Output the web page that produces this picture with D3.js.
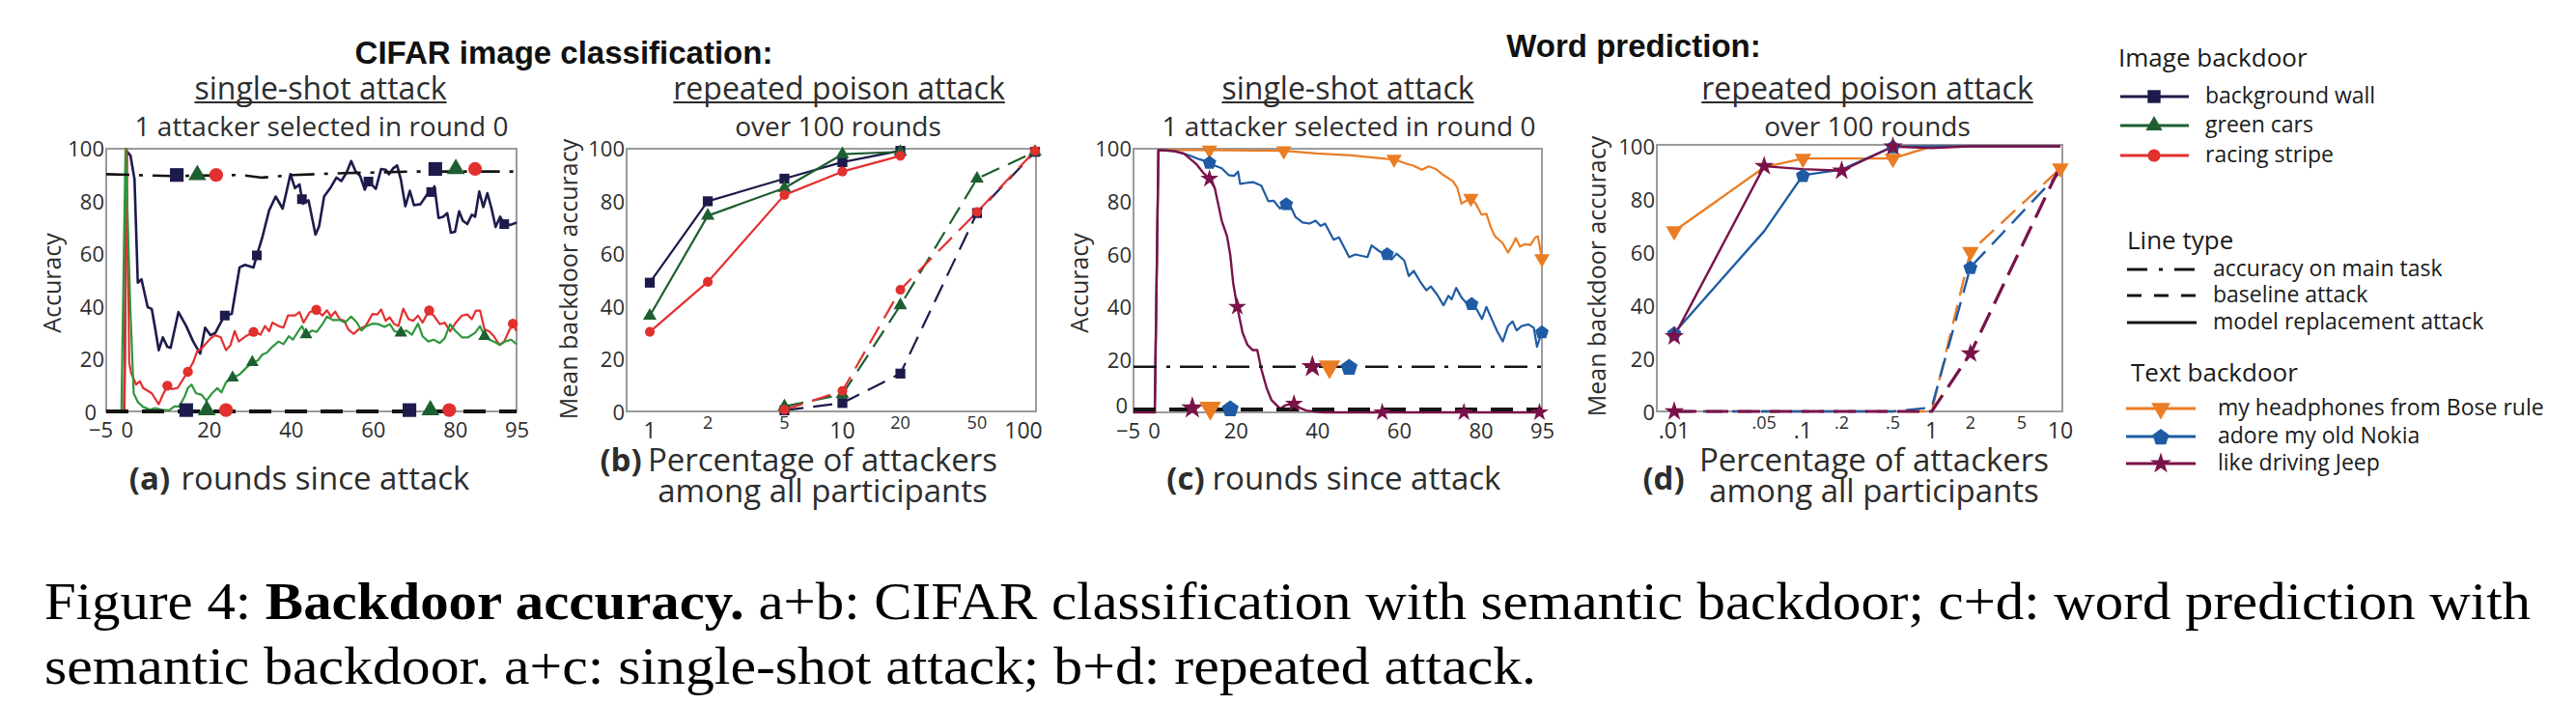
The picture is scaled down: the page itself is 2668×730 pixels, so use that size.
<!DOCTYPE html>
<html><head><meta charset="utf-8">
<script src="https://cdn.jsdelivr.net/npm/d3@7"></script>
<style>body{margin:0;background:#fff}svg{display:block}</style>
</head><body>
<svg id="c" width="2668" height="730"></svg>
<script>
// ===================== DATA =====================
// Panel (a): CIFAR single-shot, [round, accuracy]
const aNavy = [[-0.6,0],[0,99],[0.9,97.5],[1.9,88.3],[2.7,49],[3.6,50.3],[5.1,39.7],[6.1,39],[6.9,31.9],[7.8,23.3],[8.8,28.2],[9.9,24.6],[10.7,24.2],[12.6,37.8],[14.5,32.5],[16.2,26.6],[17.9,22],[19.1,31.9],[20.4,29],[21.6,29.9],[22.9,33.8],[23.9,36.5],[25.6,37.1],[27.5,54.8],[28.8,55.8],[30.9,54.8],[31.7,59.4],[33,66],[34.7,76.5],[36.3,81.8],[38,77.2],[39.9,90.3],[41,85],[42.1,86.4],[42.9,79.1],[44.3,80.4],[46,67.3],[46.9,70.6],[48.1,81.8],[49.6,85],[51.1,89],[52.3,87.7],[53.6,91],[54.7,95.3],[55.7,91.6],[56.9,89.6],[58,84.4],[58.9,87.7],[60.7,84.7],[62,92.3],[63.1,92],[63.9,90.3],[64.9,92.5],[65.9,93.6],[66.8,88.3],[67.9,78.1],[69,84],[70,78.5],[71.6,78.9],[73.3,82.8],[74.2,83.1],[75,85.7],[76,73.6],[77.1,74.1],[78.1,75.5],[79,68],[80,68.4],[81,76.2],[81.9,72.6],[83,71.3],[84.1,74.9],[84.9,74.1],[85.9,83.7],[86.9,77.8],[87.9,83.1],[88.9,77.2],[89.9,70.2],[91,74.1],[92,71.3],[93.5,71],[95,71.9]];
const aGreen = [[-1.3,0],[-0.3,100],[0.9,38.4],[1.7,6.9],[2.7,3.6],[4,1.7],[5.7,0.6],[6.9,1.3],[8.6,0.6],[10.3,0.4],[11.6,1.9],[12.8,1.9],[14.1,5.6],[14.9,8.9],[15.8,10.2],[16.9,6.9],[18.3,6.3],[19.4,4],[20.8,6.9],[22.1,8.9],[23.1,7.2],[24.2,11.1],[25.8,12.8],[27.5,14.1],[29,16.4],[30.6,18.7],[32,19.4],[33,21.6],[34.2,22.4],[35.5,24.6],[37,26.6],[38.2,25.6],[39.5,28.6],[40.5,27.3],[41.6,30],[42.7,32.5],[43.7,29.2],[45.2,30.8],[46.3,30.3],[47.7,33.2],[48.8,36.1],[50.2,34.8],[51.9,34.8],[53.2,33.8],[54.7,36.1],[56.1,33.8],[57.2,30.8],[58.4,32.5],[59.9,33.4],[61.4,33.2],[62.8,32.2],[64.1,33.2],[65.3,30.5],[66.8,29.9],[68.1,30.8],[69.5,29.2],[71,33.4],[72.1,28.6],[73.5,26.6],[74.8,27.3],[76.3,26],[77.5,27.9],[78.8,33.2],[80,30.8],[81.7,28.2],[83.2,28.2],[84.9,29.9],[86.1,32.5],[87.2,28.6],[88.4,27.3],[89.7,26.4],[91,25.3],[92.2,26.6],[93.7,27.3],[95,25.6]];
const aRed = [[-0.6,0],[0,100],[0.6,18.7],[1.05,14.8],[2.3,10.2],[3.2,11.5],[4,8.9],[6.1,6.9],[7.8,2.7],[8.6,5.6],[9.9,9.8],[11,8.5],[12.4,8.9],[13.7,12.2],[14.9,15.1],[16.2,18.7],[17.2,23],[18.3,24],[19.4,26],[20.6,28],[21.6,29],[22.9,28.2],[24.2,23.3],[25.3,25.3],[26.3,30.6],[27.3,26.6],[29,28.6],[30.9,30.3],[32.6,29.2],[33.7,32.5],[34.7,30.5],[35.5,33.8],[37,32.5],[38.2,31.9],[39.3,36.5],[41,36.5],[42.1,37.8],[43.1,33.8],[44.6,37.8],[46.2,38.7],[47.7,36.5],[48.8,38.5],[49.8,36.1],[50.8,38],[51.9,35.1],[53,34.5],[54,31.2],[55.3,29.5],[56.5,31.2],[58.2,32.5],[59.9,37.1],[61.1,36.9],[62,38.8],[63.1,34.5],[64.1,35.8],[65.1,33.4],[66.2,32.5],[67.4,39.1],[68.7,35.1],[69.8,34.5],[71,36.5],[72.1,33.8],[73.7,38.4],[75,36.1],[76.3,33.2],[77.5,33.8],[78.8,30.5],[80.2,33.8],[81.7,36.5],[83,36.9],[84.1,35.1],[85.1,38.4],[86.1,38.4],[87.2,31.2],[88.3,30.5],[89.5,28.6],[90.8,25.3],[92,26.6],[93.1,30.5],[94.1,33.4],[95,30.5]];
const aMainTask = [[-5,90.3],[11,89.6],[28,90],[33,89],[40.5,90],[53,90.7],[70,91.3],[95,91.3]];
const aBaseline = [[-5,0],[95,0]];
const aNavyMarks = [[23.9,36.5],[31.7,59.4],[42.7,80.8],[58.9,87.5],[74.2,83.5],[92,71.3]];
const aGreenMarks = [[25.8,12.8],[30.6,18.7],[43.7,29.2],[66.8,29.9],[87.2,28.6]];
const aRedMarks = [[9.9,9.8],[14.9,15.1],[30.9,30.3],[46.2,38.7],[73.7,38.4],[94.1,33.4]];
const aMainMarks = [["square",12.2,90],["triangle",17.2,90],["circle",21.8,90],["square",75.2,92.3],["triangle",80.2,92.3],["circle",84.9,92.3]];
const aBaseMarks = [["square",14.5,0.5],["triangle",19.5,0.5],["circle",24.2,0.5],["square",68.9,0.5],["triangle",74,0.5],["circle",78.6,0.5]];

// Panel (b): CIFAR repeated poison, % attackers
const bPctModel = [1,2,5,10,20];
const bNavyModel = [49,80,88.6,94.9,99.2];
const bGreenModel = [36.4,74.5,85,97.9,98.8];
const bRedModel = [30.3,49.3,82.4,91.3,97.3];
const bPctBase = [5,10,20,50,100];
const bNavyBase = [0.4,3.2,14.4,75.5,98.8];
const bGreenBase = [1.9,6.5,40.4,88.6,98.8];
const bRedBase = [0.6,7.8,46.3,75.9,99.2];
const bTicksMajor = [1,10,100];
const bTicksMinor = [2,5,20,50];

// Panel (c): word prediction single-shot
const cOrange = [[-5,0],[0.2,0],[1.1,99.5],[13.6,99.5],[31.8,99.2],[39.8,98.2],[48.3,97.5],[56.7,96.2],[58.8,96],[61.8,94.3],[63.5,93.6],[65.6,92],[67.3,93.3],[69,92.3],[70.6,90.3],[73.2,87.7],[74.3,85.1],[75.3,79.2],[76.5,80.3],[77.6,81.2],[78.8,79.2],[80.2,75],[81.4,75.3],[82.5,70.1],[83.5,66.8],[85.4,64.2],[86.7,60.6],[87.8,63.5],[88.6,66.1],[89.6,62.9],[90.9,63.8],[92.2,63.5],[93.4,66.4],[94,66.8],[95,58.5]];
const cBlue = [[-5,0],[0.2,0],[1.1,99.5],[5.2,99.1],[8.6,97.5],[11.1,96],[13.6,94.9],[14.9,93.6],[16.6,92.6],[18.3,90],[19.6,89.7],[20.6,91.3],[21.1,86.7],[22.9,87.1],[24.4,87.3],[26.3,86],[28,80.1],[29.3,80.3],[30.9,77.3],[32.4,79.2],[33.5,77.9],[34.7,74],[36.4,72],[38.1,71.6],[39.6,72.7],[40.8,70.7],[41.9,71.6],[44,65.5],[45.3,66.4],[47.8,58.9],[49.3,59.9],[52.3,58.9],[53.3,63.3],[55.4,60.9],[57.1,60.2],[58.2,58],[59.4,60.2],[61.3,57.6],[62.4,51.7],[63.6,53.7],[65.1,49.8],[66.7,46.3],[67.8,47.8],[69.4,44.5],[70.9,40.6],[72.1,44.2],[72.9,42.9],[74,47.2],[75.3,43.6],[76.5,41.5],[77.8,41.3],[79.1,38.9],[80.3,35.4],[81.4,40],[82.7,35.4],[84.1,30.6],[85.4,26.9],[86.7,32.8],[87.8,34.5],[88.8,31.1],[90.1,32.8],[91.7,33.4],[93,32.1],[93.8,24.9],[95,30.6]];
const cPurple = [[-5,0],[0.2,0],[1.1,99.5],[4.4,99.2],[7.3,98.2],[10.3,94.3],[12,91],[13.6,88.6],[14.9,85.1],[16.6,72.7],[17.9,66.8],[18.7,59.6],[19.4,49.1],[20.4,40],[21.7,30.2],[22.9,25.6],[24.2,23.6],[25.3,23.6],[26.3,16.4],[27.6,9.2],[28.8,4.6],[30.9,1.4],[32.2,2.7],[34.3,3.3],[35.6,1.8],[37.3,0.7],[41.5,0],[95,0]];
const cMainTask = [[-5,17.3],[95,17.3]];
const cBaseline = [[-5,1.1],[95,1.1]];
const cOrangeMarks = [[13.6,99.5],[31.8,99.2],[58.8,96],[77.6,81.2],[95,58.3]];
const cBlueMarks = [[13.6,94.9],[32.4,79.2],[57.1,60.2],[77.8,41.3],[95,30.6]];
const cPurpleMarks = [[13.6,88.6],[20.4,40],[34.3,3.3],[55.9,0],[75.9,0],[94.4,0]];
const cMainMarks = [["star",38.8,17.3],["tridown",43,17.3],["pentagon",47.8,17.3]];
const cBaseMarks = [["star",9.4,1.6],["tridown",13.8,1.6],["pentagon",18.7,1.6]];

// Panel (d): word prediction repeated poison
const dPct = [0.01,0.05,0.1,0.2,0.5,1,2,10];
const dOrangeModel = [68,92.1,95.4,95.4,95.4,100,100,100];
const dBlueModel = [29.6,68,89.1,91.2,99.9,100,100,100];
const dPurpleModel = [28.3,92.5,91.4,90.8,99.9,99.3,100,100];
const dOrangeBase = [0,0,0,0,0,0,60.2,91.7];
const dBlueBase = [0,0,0,0,0,1.5,54.4,90.4];
const dPurpleBase = [0,0,0,0,0,0,21.8,92.7];
const dOrangeModelMarks = [0.01,0.1,0.5];
const dBlueModelMarks = [0.01,0.1,0.5];
const dPurpleModelMarks = [0.01,0.05,0.2,0.5];
const dOrangeBaseMarks = [2,10];
const dBlueBaseMarks = [2];
const dPurpleBaseMarks = [0.01,2];
const dTicksMajor = [0.01,0.1,1,10];
const dTicksMinor = [0.05,0.2,0.5,2,5];
const dTickLabels = {0.01:".01",0.05:".05",0.1:".1",0.2:".2",0.5:".5",1:"1",2:"2",5:"5",10:"10"};

const yTicks = [0,20,40,60,80,100];
const roundTicks = [-5,0,20,40,60,80,95];

const imageLegend = [["background wall","navy","square"],["green cars","green","triangle"],["racing stripe","red","circle"]];
const lineLegend = [["accuracy on main task","dashdot"],["baseline attack","dashed"],["model replacement attack","solid"]];
const textLegend = [["my headphones from Bose rule","orange","tridown"],["adore my old Nokia","blue","pentagon"],["like driving Jeep","purple","star"]];

// ===================== STYLE =====================
const C = {navy:"#1c1b4b", green:"#2f963d", greenDark:"#1d5f30", red:"#e2302f",
           orange:"#ea7d24", blue:"#1f5ba4", purple:"#7a1249", black:"#141414",
           box:"#9b9b9b", text:"#2d2d2d"};
const FONT = "'Open Sans', 'Noto Sans', sans-serif";
const svg = d3.select("#c");
svg.append("rect").attr("width",2668).attr("height",730).attr("fill","#fff");

function symPath(shape,size){
  if(shape==="pentagon"){
    const r=Math.sqrt(size/2.378); let p="";
    for(let i=0;i<5;i++){const a=-Math.PI/2+i*2*Math.PI/5;p+=(i?"L":"M")+(r*Math.cos(a)).toFixed(2)+","+(r*Math.sin(a)+r*0.1).toFixed(2);}
    return p+"Z";
  }
  const t={square:d3.symbolSquare,triangle:d3.symbolTriangle,tridown:d3.symbolTriangle,circle:d3.symbolCircle,star:d3.symbolStar}[shape];
  return d3.symbol(t,size)();
}
function marker(g,shape,x,y,size,color){
  g.append("path").attr("d",symPath(shape,size))
   .attr("transform",`translate(${x},${y})`+(shape==="tridown"?" rotate(180)":""))
   .attr("fill",color);
}
const DASHDOT="24,10,4,10";

function drawLine(g,data,x,y,color,width,dash){
  g.append("path").datum(data)
   .attr("d",d3.line().x(d=>x(d[0])).y(d=>y(d[1])))
   .attr("fill","none").attr("stroke",color).attr("stroke-width",width)
   .attr("stroke-linejoin","round")
   .attr("stroke-dasharray",dash||null);
}
function box(x0,x1,y0,y1){
  svg.append("rect").attr("x",x0).attr("y",y0).attr("width",x1-x0).attr("height",y1-y0)
    .attr("fill","none").attr("stroke",C.box).attr("stroke-width",2);
}
function text(str,x,y,size,opts={}){
  const t=svg.append("text").attr("x",x).attr("y",y).attr("font-family",opts.family||FONT)
    .attr("font-size",size).attr("fill",opts.fill||C.text).attr("text-anchor",opts.anchor||"middle")
    .attr("font-weight",opts.weight||null).text(str);
  if(opts.rotate) t.attr("transform",`rotate(-90,${x},${y})`);
  return t;
}
function twoLine(l1,l2,cx,y,size){
  const t=svg.append("text").attr("font-family",FONT).attr("font-size",size).attr("fill",C.text).attr("text-anchor","middle");
  t.append("tspan").attr("x",cx).attr("y",y).text(l1);
  t.append("tspan").attr("x",cx).attr("y",y+32).text(l2);
}
function underlinedTitle(str,cx,y){
  const t=text(str,cx,y,32);
  const w=t.node().getComputedTextLength();
  svg.append("line").attr("x1",cx-w/2).attr("x2",cx+w/2).attr("y1",y+3).attr("y2",y+3)
    .attr("stroke",C.text).attr("stroke-width",1.8);
}
function yAxis(y,xLeft,zeroDx,zeroDy){
  const g=svg.append("g").attr("transform",`translate(${xLeft},0)`)
    .call(d3.axisLeft(y).tickValues(yTicks).tickSize(0).tickPadding(2));
  g.select(".domain").remove();
  g.selectAll("text").attr("font-family",FONT).attr("font-size",22).attr("fill",C.text)
    .attr("dy","0.36em");
  g.selectAll("text").filter(d=>d===0).attr("dx",zeroDx||0).attr("dy",(zeroDy||0)+8);
}
function roundAxis(x,yBottom){
  const g=svg.append("g").attr("transform",`translate(0,${yBottom})`)
    .call(d3.axisBottom(x).tickValues(roundTicks).tickSize(0).tickFormat(d3.format("d")));
  g.select(".domain").remove();
  g.selectAll("text").attr("font-family",FONT).attr("font-size",22).attr("fill",C.text)
    .attr("y",27).attr("dy",0).attr("dx",d=>d===-5?-6:0);
}
function logAxis(x,yBottom,major,minor,fmt,lastDx){
  const g=svg.append("g");
  g.selectAll("text.maj").data(major).join("text")
    .attr("x",d=>x(d)).attr("y",yBottom+28).attr("text-anchor","middle")
    .attr("dx",(d,i)=>i===major.length-1?(lastDx||0):0)
    .attr("font-family",FONT).attr("font-size",23).attr("fill",C.text).text(fmt);
  g.selectAll("text.min").data(minor).join("text")
    .attr("x",d=>x(d)).attr("y",yBottom+18).attr("text-anchor","middle")
    .attr("font-family",FONT).attr("font-size",18).attr("fill",C.text).text(fmt);
}

// ===================== TITLES =====================
text("CIFAR image classification:",584,66,33,{family:"'Liberation Sans', Arial, sans-serif",weight:"bold",fill:"#111"});
text("Word prediction:",1692,59,33,{family:"'Liberation Sans', Arial, sans-serif",weight:"bold",fill:"#111"});

// ===================== PANEL A =====================
const xA=d3.scaleLinear().domain([-5,95]).range([110,535]);
const yA=d3.scaleLinear().domain([0,100]).range([426,154]);
box(110,535,154,426);
underlinedTitle("single-shot attack",332,103);
text("1 attacker selected in round 0",333,141,28);
yAxis(yA,110,-8,0);
roundAxis(xA,426);
text("Accuracy",63,293,25,{rotate:true});
{
  const g=svg.append("g");
  drawLine(g,aNavy,xA,yA,C.navy,2.6);
  drawLine(g,aRed,xA,yA,C.red,2.2);
  drawLine(g,aGreen,xA,yA,C.green,2.2);
  drawLine(g,aMainTask,xA,yA,C.black,2.6,DASHDOT);
  drawLine(g,aBaseline,xA,yA,C.black,3.8,"23,14");
  aNavyMarks.forEach(d=>marker(g,"square",xA(d[0]),yA(d[1]),100,C.navy));
  aGreenMarks.forEach(d=>marker(g,"triangle",xA(d[0]),yA(d[1]),75,C.greenDark));
  aRedMarks.forEach(d=>marker(g,"circle",xA(d[0]),yA(d[1]),85,C.red));
  const col={square:C.navy,triangle:C.greenDark,circle:C.red};
  const sz={square:200,triangle:150,circle:160};
  aMainMarks.concat(aBaseMarks).forEach(d=>marker(g,d[0],xA(d[1]),yA(d[2]),sz[d[0]],col[d[0]]));
}
text("(a)",155,507,33,{weight:"bold"});
text("rounds since attack",337,507,33);

// ===================== PANEL B =====================
const xB=d3.scaleLog().domain([0.758,101.2]).range([649,1073]);
const yB=yA;
box(649,1073,154,426);
underlinedTitle("repeated poison attack",869,103);
text("over 100 rounds",868,141,28);
yAxis(yB,649);
logAxis(xB,426,bTicksMajor,bTicksMinor,d=>String(d),-12);
text("Mean backdoor accuracy",598,289,25,{rotate:true});
{
  const g=svg.append("g");
  const sets=[[bNavyModel,C.navy,"square",105],[bGreenModel,C.greenDark,"triangle",85],[bRedModel,C.red,"circle",80]];
  sets.forEach(s=>drawLine(g,bPctModel.map((p,i)=>[p,s[0][i]]),xB,yB,s[1],2.2));
  const bsets=[[bNavyBase,C.navy,"square",105],[bGreenBase,C.greenDark,"triangle",85],[bRedBase,C.red,"circle",80]];
  bsets.forEach(s=>drawLine(g,bPctBase.map((p,i)=>[p,s[0][i]]),xB,yB,s[1],2.2,"20,10"));
  sets.forEach(s=>bPctModel.forEach((p,i)=>marker(g,s[2],xB(p),yB(s[0][i]),s[3],s[1])));
  bsets.forEach(s=>bPctBase.forEach((p,i)=>marker(g,s[2],xB(p),yB(s[0][i]),s[3],s[1])));
}
text("(b)",643,488,33,{weight:"bold"});
twoLine("Percentage of attackers","among all participants",852,488,33);

// ===================== PANEL C =====================
const xC=d3.scaleLinear().domain([-5,95]).range([1174,1597]);
const yC=d3.scaleLinear().domain([0,100]).range([427,154]);
box(1174,1597,154,427);
underlinedTitle("single-shot attack",1396,103);
text("1 attacker selected in round 0",1397,141,28);
yAxis(yC,1174,-4,-8);
roundAxis(xC,427);
text("Accuracy",1127,293,25,{rotate:true});
{
  const g=svg.append("g");
  drawLine(g,cOrange,xC,yC,C.orange,2.2);
  drawLine(g,cBlue,xC,yC,C.blue,2.2);
  drawLine(g,cPurple,xC,yC,C.purple,2.4);
  drawLine(g,cMainTask,xC,yC,C.black,2.6,DASHDOT);
  drawLine(g,cBaseline,xC,yC,C.black,3.8,"23,14");
  cOrangeMarks.forEach(d=>marker(g,"tridown",xC(d[0]),yC(d[1]),110,C.orange));
  cBlueMarks.forEach(d=>marker(g,"pentagon",xC(d[0]),yC(d[1]),130,C.blue));
  cPurpleMarks.forEach(d=>marker(g,"star",xC(d[0]),yC(d[1]),110,C.purple));
  const col={star:C.purple,tridown:C.orange,pentagon:C.blue};
  const sz={star:170,tridown:220,pentagon:200};
  cMainMarks.concat(cBaseMarks).forEach(d=>marker(g,d[0],xC(d[1]),yC(d[2]),sz[d[0]],col[d[0]]));
}
text("(c)",1228,507,33,{weight:"bold"});
text("rounds since attack",1405,507,33);

// ===================== PANEL D =====================
const xD=d3.scaleLog().domain([0.01,10]).range([1734,2134]);
const yD=d3.scaleLinear().domain([0,100]).range([426,151.5]);
box(1716,2136,150,426);
underlinedTitle("repeated poison attack",1934,103);
text("over 100 rounds",1934,141,28);
yAxis(yD,1716);
logAxis(xD,426,dTicksMajor,dTicksMinor,d=>dTickLabels[d],0);
text("Mean backdoor accuracy",1663,286,25,{rotate:true});
{
  const g=svg.append("g");
  const ms=[[dOrangeModel,C.orange,"tridown",130,dOrangeModelMarks],[dBlueModel,C.blue,"pentagon",140,dBlueModelMarks],[dPurpleModel,C.purple,"star",130,dPurpleModelMarks]];
  const bs=[[dOrangeBase,C.orange,"tridown",130,dOrangeBaseMarks],[dBlueBase,C.blue,"pentagon",140,dBlueBaseMarks],[dPurpleBase,C.purple,"star",130,dPurpleBaseMarks]];
  ms.forEach(s=>drawLine(g,dPct.map((p,i)=>[p,s[0][i]]),xD,yD,s[1],2.4));
  bs.forEach((s,k)=>drawLine(g,dPct.map((p,i)=>[p,s[0][i]]),xD,yD,s[1],k===2?3.2:2.4,k===2?"23,10":"20,10"));
  ms.concat(bs).forEach(s=>s[4].forEach(p=>{const i=dPct.indexOf(p);marker(g,s[2],xD(p),yD(s[0][i]),s[3],s[1]);}));
}
text("(d)",1723,507,33,{weight:"bold"});
twoLine("Percentage of attackers","among all participants",1941,488,33);

// ===================== LEGEND =====================
{
  const g=svg.append("g");
  const colMap={navy:C.navy,green:C.greenDark,red:C.red,orange:C.orange,blue:C.blue,purple:C.purple};
  function group(header,hx,hy,entries,tx,ys){
    const t=svg.append("text").attr("font-family",FONT).attr("fill","#1a1a1a");
    t.append("tspan").attr("x",hx).attr("y",hy).attr("font-size",26).text(header);
    entries.forEach((d,i)=>t.append("tspan").attr("x",tx).attr("y",ys[i]+7).attr("font-size",23).text(d[0]));
  }
  const yI=[100,130,161];
  imageLegend.forEach((d,i)=>{
    g.append("line").attr("x1",2196).attr("x2",2267).attr("y1",yI[i]).attr("y2",yI[i]).attr("stroke",colMap[d[1]]).attr("stroke-width",2.8);
    marker(g,d[2],2231,yI[i],{square:180,triangle:130,circle:135}[d[2]],colMap[d[1]]);
  });
  group("Image backdoor",2194,69,imageLegend,2284,yI);
  const yL=[279,306,334];
  lineLegend.forEach((d,i)=>{
    g.append("line").attr("x1",2203).attr("x2",2275).attr("y1",yL[i]).attr("y2",yL[i]).attr("stroke",C.black).attr("stroke-width",3)
      .attr("stroke-dasharray",d[1]==="dashdot"?"21,12,4,12":d[1]==="dashed"?"15,13":null);
  });
  group("Line type",2203,258,lineLegend,2292,yL);
  const yT=[423,452,480];
  textLegend.forEach((d,i)=>{
    g.append("line").attr("x1",2202).attr("x2",2274).attr("y1",yT[i]).attr("y2",yT[i]).attr("stroke",colMap[d[1]]).attr("stroke-width",2.8);
    marker(g,d[2],2238,yT[i],{tridown:170,pentagon:190,star:150}[d[2]],colMap[d[1]]);
  });
  group("Text backdoor",2207,395,textLegend,2297,yT);
}

// ===================== CAPTION =====================
{
  const SERIF="'Liberation Serif','Times New Roman',serif";
  const l1=svg.append("text").attr("x",46).attr("y",641).attr("font-family",SERIF).attr("font-size",54).attr("fill","#000");
  l1.append("tspan").text("Figure 4: ");
  l1.append("tspan").attr("font-weight","bold").text("Backdoor accuracy.");
  l1.append("tspan").text(" a+b: CIFAR classification with semantic backdoor; c+d: word prediction with");
  l1.attr("textLength",2575).attr("lengthAdjust","spacingAndGlyphs");
  const l2=svg.append("text").attr("x",46).attr("y",708).attr("font-family",SERIF).attr("font-size",54).attr("fill","#000")
    .text("semantic backdoor. a+c: single-shot attack; b+d: repeated attack.");
  l2.attr("textLength",1545).attr("lengthAdjust","spacingAndGlyphs");
}
</script>
</body></html>
